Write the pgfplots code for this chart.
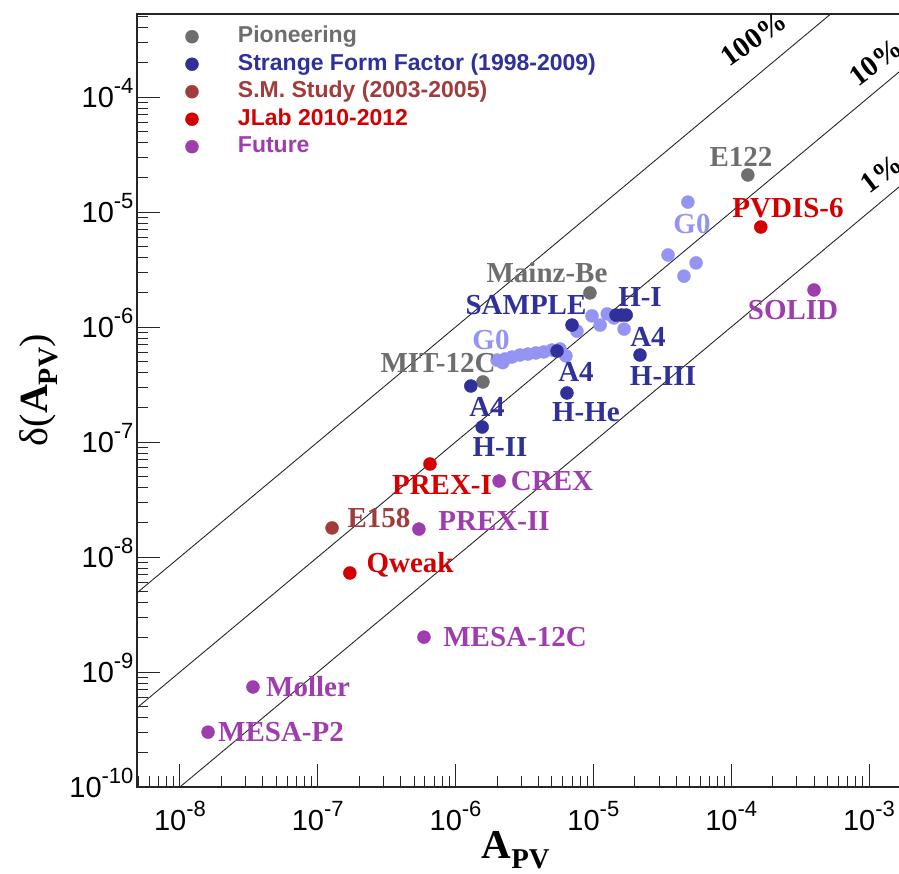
\documentclass[border=0pt]{standalone}
\usepackage{pgfplots}
\pgfplotsset{compat=1.18}
\usepackage{fontspec}
\setmainfont{Liberation Sans}
\newfontfamily\tms{Liberation Serif}
\definecolor{cPio}{HTML}{6E6E6E}
\definecolor{cSFF}{HTML}{30309A}
\definecolor{cSM}{HTML}{A23B3B}
\definecolor{cJL}{HTML}{D40000}
\definecolor{cFut}{HTML}{9E3DAE}
\definecolor{cG0}{HTML}{9494F2}
\newcommand\sups[1]{\raisebox{14pt}{\fontsize{22}{24}\selectfont #1}}
\begin{document}
\begin{tikzpicture}
\begin{axis}[
  at={(0pt,0pt)}, anchor=south west,
  scale only axis, width=765pt, height=773pt,
  xmode=log, ymode=log,
  xmin=4.88e-9, xmax=1.735e-3, ymin=1e-10, ymax=5.27e-4,
  axis line style={line width=1.3pt, black!85},
  tick style={line width=1pt, black!85},
  tick align=inside, xtick pos=left, ytick pos=left,
  major tick length=23pt, minor tick length=11pt,
  xtick={1e-8,1e-7,1e-6,1e-5,1e-4,1e-3},
  xticklabels={10\sups{-8},10\sups{-7},10\sups{-6},10\sups{-5},10\sups{-4},10\sups{-3}},
  minor xtick={5e-9,6e-9,7e-9,8e-9,9e-9,2e-8,3e-8,4e-8,5e-8,6e-8,7e-8,8e-8,9e-8,2e-7,3e-7,4e-7,5e-7,6e-7,7e-7,8e-7,9e-7,2e-6,3e-6,4e-6,5e-6,6e-6,7e-6,8e-6,9e-6,2e-5,3e-5,4e-5,5e-5,6e-5,7e-5,8e-5,9e-5,2e-4,3e-4,4e-4,5e-4,6e-4,7e-4,8e-4,9e-4},
  ytick={1e-10,1e-9,1e-8,1e-7,1e-6,1e-5,1e-4},
  yticklabels={10\sups{-10},10\sups{-9},10\sups{-8},10\sups{-7},10\sups{-6},10\sups{-5},10\sups{-4}},
  minor ytick={2e-10,3e-10,4e-10,5e-10,6e-10,7e-10,8e-10,9e-10,2e-9,3e-9,4e-9,5e-9,6e-9,7e-9,8e-9,9e-9,2e-8,3e-8,4e-8,5e-8,6e-8,7e-8,8e-8,9e-8,2e-7,3e-7,4e-7,5e-7,6e-7,7e-7,8e-7,9e-7,2e-6,3e-6,4e-6,5e-6,6e-6,7e-6,8e-6,9e-6,2e-5,3e-5,4e-5,5e-5,6e-5,7e-5,8e-5,9e-5,2e-4,3e-4,4e-4,5e-4},
  ticklabel style={font=\fontsize{29}{31}\selectfont},
  xticklabel style={anchor=base, yshift=-43pt},
  yticklabel style={anchor=base east, yshift=-10.5pt},
  xlabel={\tms\textbf{A}\textsubscript{\textbf{PV}}},
  ylabel={\tms δ(\textbf{A}\textsubscript{\textbf{PV}})},
  xlabel style={at={(axis description cs:0.4954,-0.0815)}, anchor=center, font=\fontsize{41}{44}\selectfont},
  ylabel style={at={(axis description cs:-0.1281,0.5136)}, anchor=center, font=\fontsize{40}{44}\selectfont},
  legend style={at={(axis description cs:0,1)}, anchor=north west, xshift=48.5pt, yshift=-11.7pt,
    draw=none, fill=none, inner sep=0pt, outer sep=0pt,
    font=\fontsize{23}{27}\selectfont\bfseries, row sep=5.5pt,
    nodes={inner ysep=0pt, inner xsep=0pt, text height=17pt, text depth=5pt}},
  legend cell align=left,
  legend image code/.code={\path[draw=none, fill=none] (0pt,0pt) -- (46pt,0pt);
    \draw[#1, only marks] plot coordinates {(0pt,0pt)};},
  dot/.style={only marks, mark=*, mark size=6.5pt, color=#1, mark options={draw=#1, fill=#1}},
]
% 100%, 10%, 1% lines
\addplot[black!85, line width=0.9pt, forget plot] coordinates {(1e-11,1e-11) (1e-2,1e-2)};
\addplot[black!85, line width=0.9pt, forget plot] coordinates {(1e-11,1e-12) (1e-2,1e-3)};
\addplot[black!85, line width=0.9pt, forget plot] coordinates {(1e-11,1e-13) (1e-2,1e-4)};
% G0
\addplot[dot=cG0, forget plot] coordinates {
 (2.0e-6,5.16e-7) (2.2e-6,4.9e-7) (2.28e-6,5.27e-7) (2.56e-6,5.48e-7) (2.93e-6,5.71e-7)
 (3.35e-6,5.82e-7) (3.83e-6,5.95e-7) (4.37e-6,6.07e-7) (5.01e-6,6.31e-7) (5.73e-6,6.44e-7)
 (6.32e-6,5.6e-7) (9.77e-6,1.25e-6) (1.12e-5,1.04e-6) (1.26e-5,1.30e-6) (7.6e-6,9.2e-7)
 (1.67e-5,9.6e-7) (1.41e-5,1.2e-6) (4.85e-5,1.22e-5) (3.48e-5,4.23e-6) (5.56e-5,3.61e-6)
 (4.54e-5,2.77e-6)};
% Pioneering
\addplot[dot=cPio] coordinates {(1.32e-4,2.1e-5) (9.44e-6,1.98e-6) (1.58e-6,3.33e-7)};
\addlegendentry{\textcolor{cPio}{Pioneering}}
% Strange form factor
\addplot[dot=cSFF] coordinates {(7.0e-6,1.04e-6) (1.46e-5,1.27e-6) (1.6e-5,1.27e-6) (1.73e-5,1.27e-6)
 (2.18e-5,5.71e-7) (6.43e-6,2.67e-7) (1.56e-6,1.35e-7) (1.29e-6,3.07e-7) (5.45e-6,6.18e-7)};
\addlegendentry{\textcolor{cSFF}{Strange Form Factor (1998-2009)}}
% SM study
\addplot[dot=cSM] coordinates {(1.27e-7,1.79e-8)};
\addlegendentry{\textcolor{cSM}{S.M. Study (2003-2005)}}
% JLab
\addplot[dot=cJL] coordinates {(6.52e-7,6.44e-8) (1.71e-7,7.26e-9) (1.64e-4,7.41e-6)};
\addlegendentry{\textcolor{cJL}{JLab 2010-2012}}
% Future
\addplot[dot=cFut] coordinates {(3.99e-4,2.1e-6) (2.07e-6,4.58e-8) (5.42e-7,1.75e-8)
 (5.9e-7,2.01e-9) (3.39e-8,7.41e-10) (1.6e-8,3.0e-10)};
\addlegendentry{\textcolor{cFut}{Future}}
\end{axis}
\begin{scope}[every node/.style={font=\fontsize{29}{32}\selectfont\tms\bfseries, inner sep=0pt, anchor=center}]
\node[text=cPio] at (604pt,630pt) {E122};
\node[text=cJL] at (651pt,579pt) {PVDIS-6};
\node[text=cG0] at (555pt,563pt) {G0};
\node[text=cPio] at (410pt,514pt) {Mainz-Be};
\node[text=cSFF] at (389pt,482pt) {SAMPLE};
\node[text=cSFF] at (503pt,490pt) {H-I};
\node[text=cSFF] at (511pt,450pt) {A4};
\node[text=cSFF] at (526pt,411pt) {H-III};
\node[text=cG0] at (354pt,447pt) {G0};
\node[text=cPio] at (301pt,424pt) {MIT-12C};
\node[text=cSFF] at (439pt,415pt) {A4};
\node[text=cSFF] at (449pt,375pt) {H-He};
\node[text=cSFF] at (350pt,380pt) {A4};
\node[text=cSFF] at (363pt,340pt) {H-II};
\node[text=cJL] at (305pt,302pt) {PREX-I};
\node[text=cFut] at (415pt,306pt) {CREX};
\node[text=cSM] at (242pt,269pt) {E158};
\node[text=cFut] at (357pt,266pt) {PREX-II};
\node[text=cJL] at (273pt,222pt) {Qweak};
\node[text=cFut] at (378pt,150pt) {MESA-12C};
\node[text=cFut] at (171pt,100pt) {Moller};
\node[text=cFut] at (144pt,55pt) {MESA-P2};
\node[text=cFut] at (656pt,477pt) {SOLID};
\node[text=black, rotate=36, anchor=base west] at (592.7pt,719pt) {100\%};
\node[text=black, rotate=37, anchor=base west] at (721pt,699.7pt) {10\%};
\node[text=black, rotate=37, anchor=base west] at (732.5pt,592.3pt) {1\%};
\end{scope}
\pgfresetboundingbox
\path[use as bounding box] (-137pt,-86pt) rectangle (762pt,787pt);
\end{tikzpicture}
\end{document}
